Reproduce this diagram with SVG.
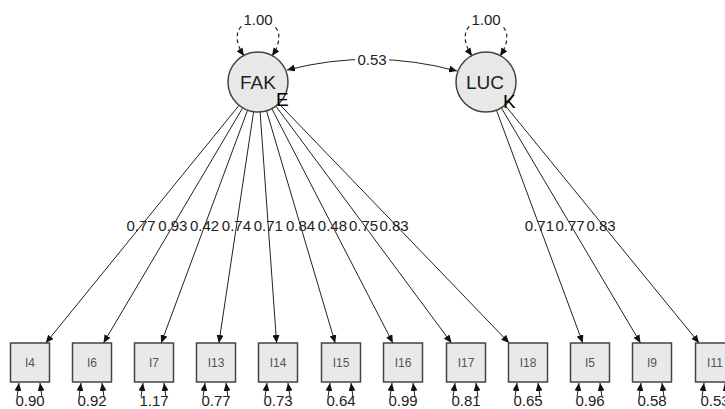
<svg xmlns="http://www.w3.org/2000/svg" width="725" height="409" viewBox="0 0 725 409">
<style>
text{font-family:"Liberation Sans",Arial,sans-serif;}
.lat{fill:#e8e8e8;stroke:#444;stroke-width:1.5;}
.obs{fill:#e9e9e9;stroke:#444;stroke-width:1.5;}
.ln{fill:none;stroke:#222;stroke-width:1;marker-end:url(#ah);}
.dl{fill:none;stroke:#222;stroke-width:1.2;stroke-dasharray:4,3;marker-start:url(#ah);marker-end:url(#ah);}
.cv{fill:none;stroke:#222;stroke-width:1;marker-start:url(#ah);marker-end:url(#ah);}
.lt{font-size:19px;fill:#222;text-anchor:middle;}
.sx{font-size:19px;fill:#000;}
.bl{font-size:12px;fill:#555;text-anchor:middle;}
.lb{font-size:15px;fill:#222;text-anchor:middle;}
</style>
<defs>
<marker id="ah" viewBox="0 0 10 10" refX="10" refY="5" markerWidth="8" markerHeight="7" markerUnits="userSpaceOnUse" orient="auto-start-reverse" preserveAspectRatio="none"><path d="M0,0 L10,5 L0,10 z" fill="#111"/></marker>
</defs>
<g id="connectors">
<path class="ln" d="M239.1,105.3 L45.8,343"/>
<path class="ln" d="M242.7,107.8 L103.5,343"/>
<path class="ln" d="M247.6,110.1 L161.2,343"/>
<path class="ln" d="M253.6,111.7 L218.9,343"/>
<path class="ln" d="M260.1,111.9 L276.6,343"/>
<path class="ln" d="M266.5,110.8 L335.2,343"/>
<path class="ln" d="M271.8,108.6 L392.9,343"/>
<path class="ln" d="M275.9,106.1 L451.5,343"/>
<path class="ln" d="M278.8,103.6 L509.2,343"/>
<path class="ln" d="M496.4,110.1 L582.8,343"/>
<path class="ln" d="M501.3,107.8 L640.5,343"/>
<path class="ln" d="M505,105.2 L699.1,343"/>
<path class="dl" d="M244,56 C212,8 304,8 272,56"/>
<path class="dl" d="M472,56 C440,8 532,8 500,56"/>
<path class="cv" d="M287,70 Q372,48 457,71"/>
<rect x="355" y="51" width="34" height="15" fill="#fff"/>
<text class="lb" x="372" y="65">0.53</text>
<rect x="242" y="11" width="32" height="16" fill="#fff"/>
<text class="lb" x="258" y="25">1.00</text>
<rect x="470" y="11" width="32" height="16" fill="#fff"/>
<text class="lb" x="486" y="25">1.00</text>
<text class="lb" x="141" y="231">0.77</text>
<text class="lb" x="172.8" y="231">0.93</text>
<text class="lb" x="204.6" y="231">0.42</text>
<text class="lb" x="236.4" y="231">0.74</text>
<text class="lb" x="268.3" y="231">0.71</text>
<text class="lb" x="300.6" y="231">0.84</text>
<text class="lb" x="332.4" y="231">0.48</text>
<text class="lb" x="363.5" y="231">0.75</text>
<text class="lb" x="394" y="231">0.83</text>
<text class="lb" x="539.4" y="231">0.71</text>
<text class="lb" x="570" y="231">0.77</text>
<text class="lb" x="601" y="231">0.83</text>
</g>
<g id="FAK"><circle class="lat" cx="258" cy="82" r="30"/><text class="lt" x="258" y="89">FAK</text><text class="sx" x="276" y="106">E</text></g>
<g id="LUC"><circle class="lat" cx="486" cy="82" r="30"/><text class="lt" x="485" y="89">LUC</text><text class="sx" x="503" y="108">K</text></g>
<g id="I4"><rect class="obs" x="10.5" y="343" width="39" height="39"/><text class="bl" x="30" y="367">I4</text><path class="ln" d="M17,397 Q18,390 19,383"/><path class="ln" d="M42,397 Q41,390 40,383"/><text class="lb" x="30" y="406">0.90</text></g>
<g id="I6"><rect class="obs" x="72.5" y="343" width="39" height="39"/><text class="bl" x="92" y="367">I6</text><path class="ln" d="M79,397 Q80,390 81,383"/><path class="ln" d="M104,397 Q103,390 102,383"/><text class="lb" x="92" y="406">0.92</text></g>
<g id="I7"><rect class="obs" x="134.5" y="343" width="39" height="39"/><text class="bl" x="154" y="367">I7</text><path class="ln" d="M141,397 Q142,390 143,383"/><path class="ln" d="M166,397 Q165,390 164,383"/><text class="lb" x="154" y="406">1.17</text></g>
<g id="I13"><rect class="obs" x="196.5" y="343" width="39" height="39"/><text class="bl" x="216" y="367">I13</text><path class="ln" d="M203,397 Q204,390 205,383"/><path class="ln" d="M228,397 Q227,390 226,383"/><text class="lb" x="216" y="406">0.77</text></g>
<g id="I14"><rect class="obs" x="258.5" y="343" width="39" height="39"/><text class="bl" x="278" y="367">I14</text><path class="ln" d="M265,397 Q266,390 267,383"/><path class="ln" d="M290,397 Q289,390 288,383"/><text class="lb" x="278" y="406">0.73</text></g>
<g id="I15"><rect class="obs" x="321.5" y="343" width="39" height="39"/><text class="bl" x="341" y="367">I15</text><path class="ln" d="M328,397 Q329,390 330,383"/><path class="ln" d="M353,397 Q352,390 351,383"/><text class="lb" x="341" y="406">0.64</text></g>
<g id="I16"><rect class="obs" x="383.5" y="343" width="39" height="39"/><text class="bl" x="403" y="367">I16</text><path class="ln" d="M390,397 Q391,390 392,383"/><path class="ln" d="M415,397 Q414,390 413,383"/><text class="lb" x="403" y="406">0.99</text></g>
<g id="I17"><rect class="obs" x="446.5" y="343" width="39" height="39"/><text class="bl" x="466" y="367">I17</text><path class="ln" d="M453,397 Q454,390 455,383"/><path class="ln" d="M478,397 Q477,390 476,383"/><text class="lb" x="466" y="406">0.81</text></g>
<g id="I18"><rect class="obs" x="508.5" y="343" width="39" height="39"/><text class="bl" x="528" y="367">I18</text><path class="ln" d="M515,397 Q516,390 517,383"/><path class="ln" d="M540,397 Q539,390 538,383"/><text class="lb" x="528" y="406">0.65</text></g>
<g id="I5"><rect class="obs" x="570.5" y="343" width="39" height="39"/><text class="bl" x="590" y="367">I5</text><path class="ln" d="M577,397 Q578,390 579,383"/><path class="ln" d="M602,397 Q601,390 600,383"/><text class="lb" x="590" y="406">0.96</text></g>
<g id="I9"><rect class="obs" x="632.5" y="343" width="39" height="39"/><text class="bl" x="652" y="367">I9</text><path class="ln" d="M639,397 Q640,390 641,383"/><path class="ln" d="M664,397 Q663,390 662,383"/><text class="lb" x="652" y="406">0.58</text></g>
<g id="I11"><rect class="obs" x="695.5" y="343" width="39" height="39"/><text class="bl" x="715" y="367">I11</text><path class="ln" d="M702,397 Q703,390 704,383"/><path class="ln" d="M727,397 Q726,390 725,383"/><text class="lb" x="715" y="406">0.53</text></g>
</svg>
